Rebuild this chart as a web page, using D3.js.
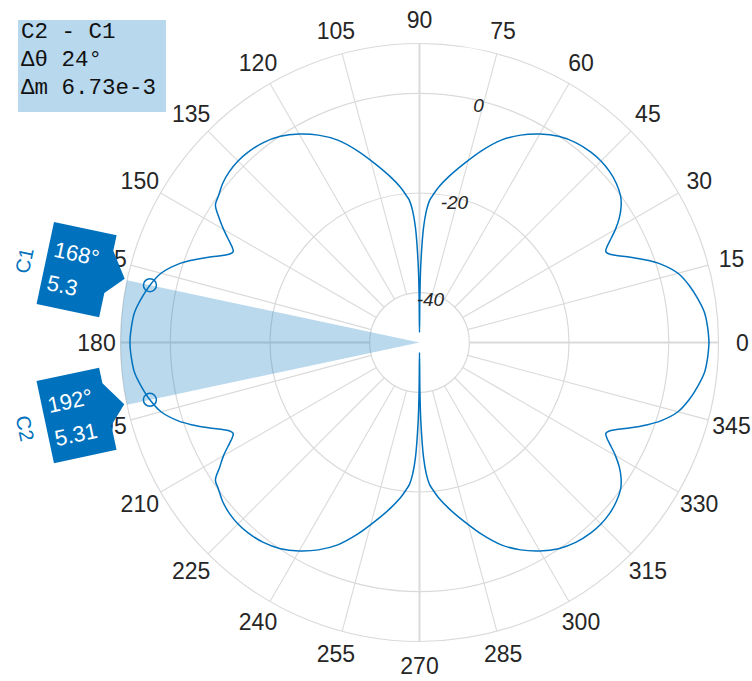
<!DOCTYPE html>
<html><head><meta charset="utf-8">
<script src="https://cdn.jsdelivr.net/npm/d3@7"></script>
<style>html,body{margin:0;padding:0;background:#fff;}svg{display:block;}</style>
</head><body>
<svg id="chart" width="752" height="681"></svg>
<script>
// ---- data ----
const angles = [
  0,3,6,9,12,15,18,20,22,24,25,26,27,28,30,32,34,36,39,42,45,48,52,56,60,64,68,72,76,80,83,85,86,87,88,89,89.5,90,
  90.5,91,92,93,94,95,97,100,104,108,112,116,120,124,128,132,135,138,141,144,146,148,150,152,153,154,155,156,158,160,162,165,168,171,174,177,180,
  183,186,189,192,195,198,200,202,204,205,206,207,208,210,212,214,216,219,222,225,228,232,236,240,244,248,252,256,260,263,265,266,267,268,269,269.5,270,
  270.5,271,272,273,274,275,277,280,284,288,292,296,300,304,308,312,315,318,321,324,326,328,330,332,333,334,335,336,338,340,342,345,348,351,354,357,360
];
const magnitudes = [
  8.1,7.9,7.5,6.5,5.3,3.7,0.9,-1.6,-4.3,-7.0,-8.0,-8.4,-7.8,-6.8,-4.6,-2.7,-1.2,-0.1,0.8,1.3,1.5,1.4,0.9,-0.1,-1.7,-3.7,-6.2,-9.5,-13.0,-16.2,-18.6,-20.5,-21.5,-23.5,-27,-34,-40,-48,
  -40,-34,-27,-23.5,-21.5,-20.5,-18.6,-16.2,-13.0,-9.5,-6.2,-3.7,-1.7,-0.1,0.9,1.4,1.5,1.3,0.8,-0.1,-0.6,-2.5,-4.6,-6.8,-7.8,-8.4,-8.0,-7.0,-4.3,-1.6,0.9,3.7,5.3,6.5,7.5,7.9,8.1,
  7.9,7.5,6.5,5.31,3.7,0.9,-1.6,-4.3,-7.0,-8.0,-8.4,-7.8,-6.8,-4.6,-2.7,-0.6,-0.1,0.8,1.3,1.5,1.4,0.9,-0.1,-1.7,-3.7,-6.2,-9.5,-13.0,-16.2,-18.6,-20.5,-21.5,-23.5,-27,-34,-40,-48,
  -40,-34,-27,-23.5,-21.5,-20.5,-18.6,-16.2,-13.0,-9.5,-6.2,-3.7,-1.7,-0.1,0.9,1.4,1.5,1.3,0.8,-0.1,-1.2,-2.7,-4.6,-6.8,-7.8,-8.4,-8.0,-7.0,-4.3,-1.6,0.9,3.7,5.3,6.5,7.5,7.9,8.1
];
const angleTicks = d3.range(0, 360, 15);
const magTicks = [-40, -20, 0];
const magLimits = [-50, 10];
const cursors = [
  {id: "C1", angle: 168, mag: 5.3,  text: ["168°", "5.3"]},
  {id: "C2", angle: 192, mag: 5.31, text: ["192°", "5.31"]}
];
const deltaLines = ["C2 - C1", "Δθ 24°", "Δm 6.73e-3"];

// ---- layout ----
const cx = 419.5, cy = 342.5, R = 299;
const svg = d3.select("#chart");
const g = svg.append("g").attr("transform", `translate(${cx},${cy})`);
const r = d3.scaleLinear().domain(magLimits).range([0, R]).clamp(true);
const rad = a => a * Math.PI / 180;
const px = (a, rr) => rr * Math.cos(rad(a));
const py = (a, rr) => -rr * Math.sin(rad(a));
const gridCol = "#dadada";
const blue = "#0072bd";

// rings
const ringVals = magTicks.concat([magLimits[1]]);
g.selectAll("circle.ring").data(ringVals).join("circle")
  .attr("r", d => r(d)).attr("fill", "none").attr("stroke", gridCol).attr("stroke-width", 1.2);
// spokes
g.selectAll("line.spoke").data(angleTicks).join("line")
  .attr("x1", d => px(d, r(magTicks[0]))).attr("y1", d => py(d, r(magTicks[0])))
  .attr("x2", d => px(d, R)).attr("y2", d => py(d, R))
  .attr("stroke", gridCol).attr("stroke-width", d => d % 90 === 0 ? 2 : 1.1);

// cursor wedge
const arc = d3.arc().innerRadius(0).outerRadius(R)
  .startAngle(Math.PI/2 - rad(cursors[1].angle)).endAngle(Math.PI/2 - rad(cursors[0].angle));
g.append("path").attr("d", arc()).attr("fill", blue).attr("fill-opacity", 0.27);

// pattern
const pts = angles.map((a, i) => [a, magnitudes[i]]);
const line = d3.lineRadial().angle(d => Math.PI/2 - rad(d[0])).radius(d => r(d[1]))
  .curve(d3.curveCatmullRom.alpha(0.5));
g.append("path").attr("d", line(pts)).attr("fill", "none").attr("stroke", blue).attr("stroke-width", 1.5);

// cursor markers
g.selectAll("circle.cur").data(cursors).join("circle")
  .attr("cx", d => px(d.angle, r(d.mag))).attr("cy", d => py(d.angle, r(d.mag)))
  .attr("r", 6.5).attr("fill", "none").attr("stroke", blue).attr("stroke-width", 1.5);

// angle labels
g.selectAll("text.ang").data(angleTicks).join("text")
  .attr("x", d => px(d, 323)).attr("y", d => py(d, 323))
  .attr("text-anchor", "middle").attr("dominant-baseline", "central")
  .attr("font-family", "Liberation Sans, Arial, sans-serif").attr("font-size", 23).attr("fill", "#262626")
  .text(d => d);

// magnitude labels
g.selectAll("text.mag").data(magTicks).join("text")
  .attr("x", d => px(76, r(d) - 5)).attr("y", d => py(76, r(d) - 5))
  .attr("text-anchor", "middle").attr("dominant-baseline", "central")
  .attr("font-family", "Liberation Sans, Arial, sans-serif").attr("font-style", "italic")
  .attr("font-size", 19).attr("fill", "#262626").text(d => d);

// cursor labels
cursors.forEach(c => {
  const mr = r(c.mag);
  const mx = px(c.angle, mr), my = py(c.angle, mr);
  const alpha = Math.atan2(Math.sin(rad(c.angle)), -Math.cos(rad(c.angle))) * 180 / Math.PI;
  const lg = g.append("g").attr("transform", `translate(${mx},${my}) rotate(${alpha})`);
  const poly = [[-107,-42],[-43,-42],[-43,-26],[-26,-1],[-43,17],[-43,42],[-107,42]];
  lg.append("path").attr("d", "M" + poly.join("L") + "Z").attr("fill", blue);
  lg.selectAll("text.v").data(c.text).join("text")
    .attr("x", -101).attr("y", (d, i) => -8 + i * 34)
    .attr("font-family", "Liberation Sans, Arial, sans-serif").attr("font-size", 22).attr("fill", "#fff")
    .text(d => d);
  lg.append("text").attr("transform", `translate(-128,2) rotate(${c.angle < 180 ? -90 : 90})`)
    .attr("text-anchor", "middle").attr("dominant-baseline", "central")
    .attr("font-family", "Liberation Sans, Arial, sans-serif").attr("font-size", 20).attr("fill", blue)
    .text(c.id);
});

// delta box
svg.append("rect").attr("x", 18).attr("y", 20).attr("width", 148).attr("height", 92).attr("fill", "#b8d8ee");
svg.selectAll("text.delta").data(deltaLines).join("text")
  .attr("x", 21).attr("y", (d, i) => 38 + i * 28)
  .attr("font-family", "Liberation Mono, Courier New, monospace").attr("font-size", 22.5).attr("fill", "#111")
  .text(d => d);
</script>
</body></html>
